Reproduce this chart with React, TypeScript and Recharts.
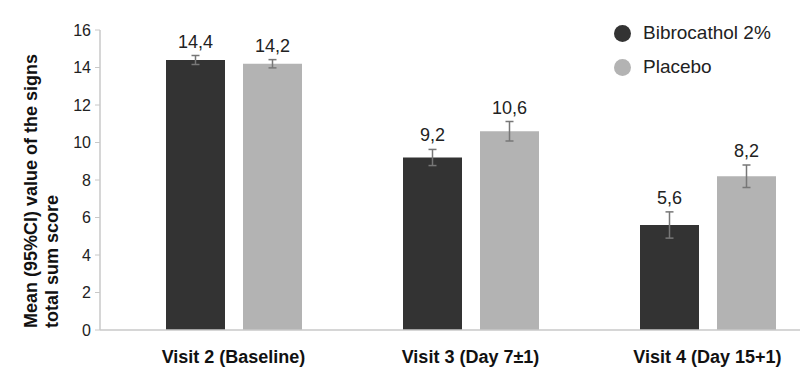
import React from "react";
import {
  BarChart,
  Bar,
  XAxis,
  YAxis,
  ErrorBar,
  LabelList,
  Label,
} from "recharts";

const categories = ["Visit 2 (Baseline)", "Visit 3 (Day 7±1)", "Visit 4 (Day 15+1)"];
const bibrocathol = [14.4, 9.2, 5.6];
const placebo = [14.2, 10.6, 8.2];
const bibrocatholCi = [0.24, 0.43, 0.7];
const placeboCi = [0.22, 0.52, 0.6];
const yTicks = [0, 2, 4, 6, 8, 10, 12, 14, 16];

const seriesNames = ["Bibrocathol 2%", "Placebo"];
const DARK = "#333333";
const LIGHT = "#b3b3b3";
const FONT = '"Liberation Sans", Arial, Helvetica, sans-serif';

const data = categories.map((name, i) => ({
  name,
  bibrocathol: bibrocathol[i],
  placebo: placebo[i],
  bibrocatholCi: bibrocatholCi[i],
  placeboCi: placeboCi[i],
}));

function makeValueLabel(values: number[], ci: number[]) {
  return (props: any) => {
    const { x, y, width, height, value } = props;
    const idx = props.index ?? values.indexOf(value);
    const pxPerUnit = height / value;
    const errTop = y - (ci[idx] ?? 0) * pxPerUnit;
    return (
      <text
        x={x + width / 2}
        y={errTop - 8}
        textAnchor="middle"
        fontSize={18}
        fill="#222"
        fontFamily={FONT}
      >
        {String(value).replace(".", ",")}
      </text>
    );
  };
}

// legend drawn as plain html so it doesn't eat into the plot area
function ChartLegend() {
  const colors = [DARK, LIGHT];
  return (
    <div style={{ position: "absolute", left: 614, top: 16, fontFamily: FONT }}>
      {seriesNames.map((n, i) => (
        <div
          key={n}
          style={{ display: "flex", alignItems: "center", height: 34, color: "#222", fontSize: 19 }}
        >
          <span
            style={{
              width: 17,
              height: 17,
              borderRadius: "50%",
              background: colors[i],
              marginRight: 12,
              display: "inline-block",
            }}
          />
          {n}
        </div>
      ))}
    </div>
  );
}

function YAxisTitle() {
  return (
    <g fontFamily={FONT} fontWeight="bold" fontSize={18} fill="#111">
      <text x={37} y={328} transform="rotate(-90, 37, 328)" textAnchor="start">
        Mean (95%CI) value of the signs
      </text>
      <text x={58} y={328} transform="rotate(-90, 58, 328)" textAnchor="start">
        total sum score
      </text>
    </g>
  );
}

export default function App() {
  return (
    <div
      style={{
        position: "absolute",
        left: 0,
        top: 0,
        width: 800,
        height: 381,
        overflow: "hidden",
        background: "#fff",
      }}
    >
      <BarChart
        width={830}
        height={381}
        data={data}
        margin={{ top: 30, right: 4, bottom: 0, left: 0 }}
        barGap={18}
        barSize={59}
      >
        <XAxis
          dataKey="name"
          height={51}
          padding={{ left: 15, right: 0 }}
          axisLine={{ stroke: "#c8c8c8", strokeWidth: 1.5 }}
          tickLine={false}
          tickMargin={14}
          tick={{ fontSize: 18, fontWeight: "bold", fill: "#111", fontFamily: FONT }}
          interval={0}
        />
        <YAxis
          width={100}
          domain={[0, 16]}
          ticks={yTicks}
          axisLine={{ stroke: "#c8c8c8", strokeWidth: 1.5 }}
          tickLine={{ stroke: "#c8c8c8" }}
          tickSize={5}
          tickMargin={4}
          tick={{ fontSize: 16, fill: "#222", fontFamily: FONT }}
        >
          <Label content={<YAxisTitle />} />
        </YAxis>
        <Bar dataKey="bibrocathol" fill={DARK} isAnimationActive={false}>
          <ErrorBar dataKey="bibrocatholCi" width={4} stroke="#777" strokeWidth={1.5} />
          <LabelList content={makeValueLabel(bibrocathol, bibrocatholCi)} />
        </Bar>
        <Bar dataKey="placebo" fill={LIGHT} isAnimationActive={false}>
          <ErrorBar dataKey="placeboCi" width={4} stroke="#777" strokeWidth={1.5} />
          <LabelList content={makeValueLabel(placebo, placeboCi)} />
        </Bar>
      </BarChart>
      <ChartLegend />
    </div>
  );
}
